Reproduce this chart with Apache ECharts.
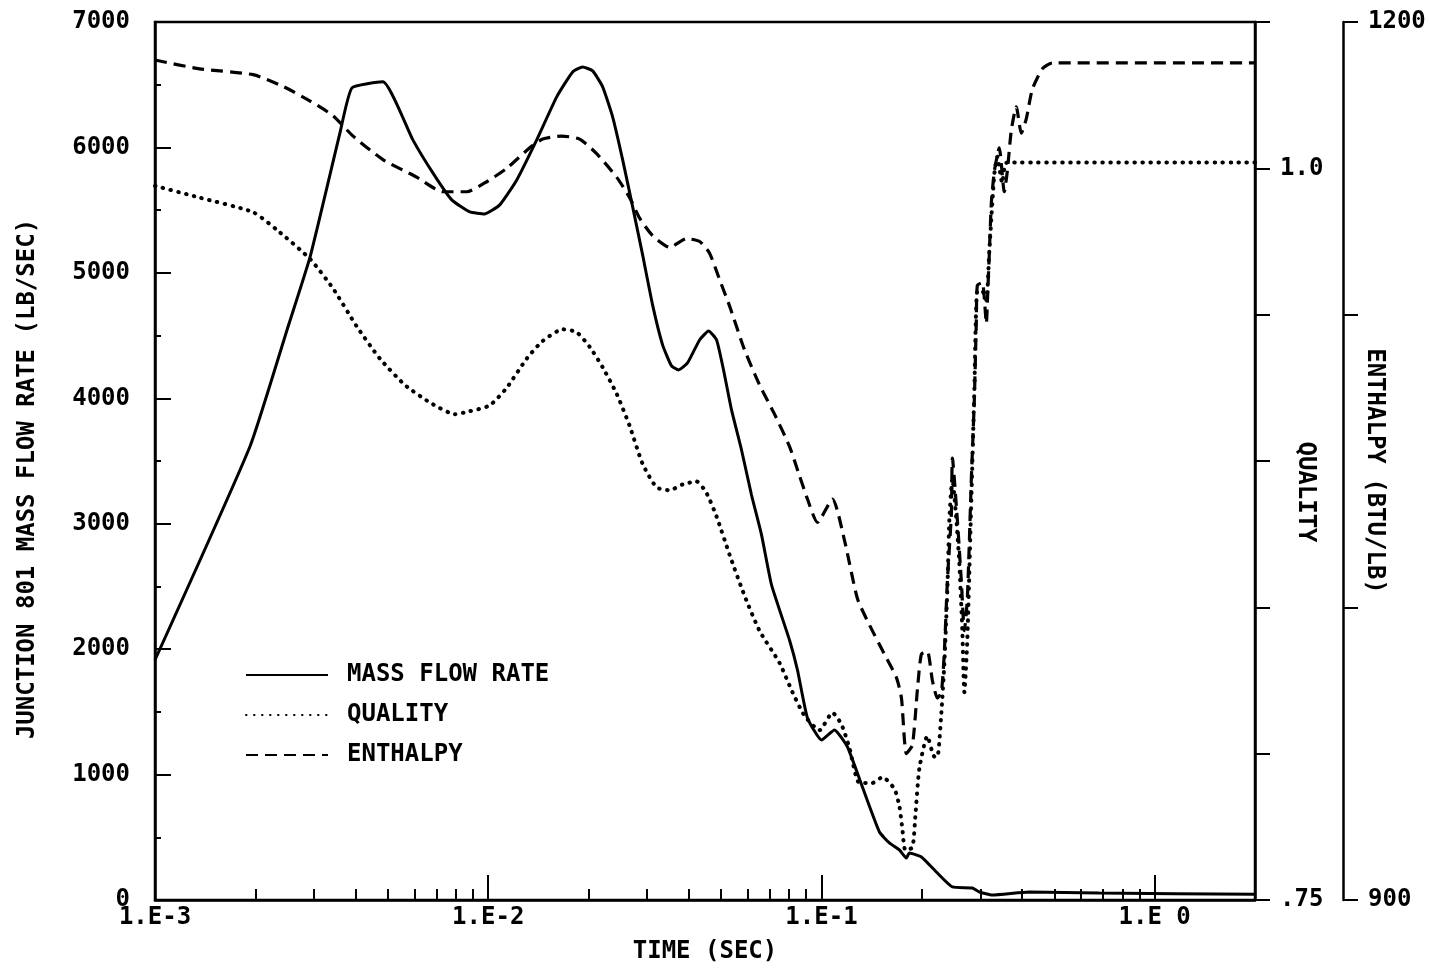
<!DOCTYPE html>
<html>
<head>
<meta charset="utf-8">
<script src="https://cdn.jsdelivr.net/npm/echarts@6/dist/echarts.min.js"></script>
<style>
html,body{margin:0;padding:0;background:#fff;}
#chart{width:1430px;height:972px;}
</style>
</head>
<body>
<div id="chart"></div>
<script>
// ---- data (time in seconds) ----
const massTime = [0.001,0.00193,0.00249,0.00292,0.00359,0.0039,0.00483,0.00594,0.00682,0.00777,0.0088,0.00976,0.01083,0.01218,0.01398,0.01605,0.01792,0.0192,0.02058,0.02205,0.02362,0.02532,0.02713,0.02906,0.03113,0.03336,0.03549,0.03725,0.03964,0.04308,0.04584,0.04845,0.05083,0.05372,0.05756,0.06167,0.06609,0.07082,0.08017,0.08472,0.09078,0.1,0.1094,0.1197,0.1327,0.1493,0.1599,0.1714,0.1798,0.1836,0.1995,0.2212,0.2471,0.2837,0.2978,0.3257,0.4205,0.6817,2.0];
const massFlow = [1914,3620,4545,5127,6116,6475,6523,6060,5797,5582,5486,5470,5542,5741,6060,6403,6602,6642,6610,6483,6244,5901,5526,5143,4745,4426,4258,4226,4282,4465,4537,4465,4226,3907,3588,3229,2911,2512,2073,1834,1451,1276,1356,1220,901,542,455,399,335,375,343,223,104,96,64,40,64,56,45];

const qualTime = [0.001,0.00136,0.00197,0.00232,0.00292,0.00342,0.00403,0.00473,0.00562,0.00668,0.00794,0.0088,0.0101,0.01136,0.01305,0.01457,0.01673,0.01842,0.02016,0.02205,0.02428,0.02657,0.02906,0.03201,0.03501,0.0383,0.04219,0.04521,0.04845,0.05298,0.05876,0.06518,0.07484,0.08185,0.08892,0.09863,0.1079,0.1148,0.1213,0.13,0.1422,0.1524,0.1655,0.1714,0.175,0.1786,0.1875,0.1914,0.1967,0.2079,0.2182,0.2228,0.229,0.2338,0.2387,0.242,0.2471,0.254,0.2593,0.2647,0.2684,0.274,0.2817,0.2876,0.2936,0.304,0.3125,0.319,0.3302,0.3371,0.3488,0.3612,2.0];
const quality = [0.994,0.990,0.985,0.979,0.969,0.959,0.946,0.935,0.926,0.920,0.916,0.917,0.919,0.925,0.935,0.941,0.945,0.944,0.939,0.932,0.923,0.912,0.899,0.891,0.890,0.892,0.893,0.889,0.881,0.868,0.854,0.842,0.831,0.821,0.813,0.808,0.814,0.810,0.802,0.790,0.790,0.792,0.788,0.782,0.774,0.767,0.768,0.779,0.795,0.806,0.799,0.799,0.814,0.831,0.856,0.880,0.894,0.880,0.865,0.842,0.821,0.839,0.887,0.924,0.958,0.958,0.955,0.972,0.998,1.004,0.995,1.002,1.002];

const enthTime = [0.001,0.00136,0.00197,0.00242,0.00292,0.00342,0.00393,0.00483,0.0061,0.0073,0.00862,0.00976,0.01136,0.01332,0.01457,0.01661,0.01881,0.02115,0.02428,0.02657,0.02847,0.03113,0.03501,0.03937,0.04308,0.04616,0.04946,0.05298,0.05876,0.06518,0.0723,0.08017,0.0859,0.09078,0.09727,0.1079,0.1172,0.1282,0.1393,0.1545,0.1679,0.1738,0.1798,0.1875,0.1941,0.1995,0.2079,0.2152,0.2228,0.229,0.2338,0.2387,0.2454,0.2471,0.2557,0.2629,0.2684,0.274,0.2817,0.2876,0.2916,0.2936,0.304,0.3125,0.3146,0.319,0.3234,0.3302,0.3417,0.3537,0.3612,0.3713,0.3843,0.3979,0.4119,0.4293,0.46,0.4928,2.0];
const enthalpy = [1187,1184,1182,1178,1173,1168,1161,1153,1147,1142,1142,1145,1150,1157,1160,1161,1160,1155,1147,1140,1133,1127,1123,1126,1125,1121,1112,1103,1088,1076,1066,1055,1045,1037,1029,1037,1023,1003,994,984,976,969,950,953,972,984,985,975,969,971,985,1009,1032,1051,1030,1009,992,1003,1044,1071,1098,1110,1111,1097,1104,1121,1138,1149,1157,1142,1149,1163,1171,1162,1167,1177,1184,1186,1186];

const minorTimeTicks = [0.002,0.003,0.004,0.005,0.006,0.007,0.008,0.009,0.02,0.03,0.04,0.05,0.06,0.07,0.08,0.09,0.2,0.3,0.4,0.5,0.6,0.7,0.8,0.9];

const seriesNames = ['MASS FLOW RATE','QUALITY','ENTHALPY'];

// ---- chart ----
const FONT = "'DejaVu Sans Mono', 'Liberation Mono', monospace";
const txt = {fontFamily: FONT, fontWeight: 'bold', fontSize: 24, color: '#000'};
const zip = (a, b) => a.map((v, i) => [v, b[i]]);

function timeLabel(v) {
  const e = Math.log10(v);
  const r = Math.round(e);
  if (Math.abs(e - r) > 1e-6) return '';
  return r === 0 ? '1.E 0' : '1.E' + r;
}

const chart = echarts.init(document.getElementById('chart'), null, {renderer: 'canvas'});
chart.setOption({
  animation: false,
  backgroundColor: '#fff',
  grid: {left: 155, top: 22, right: 175, bottom: 72, show: true, borderColor: '#000', borderWidth: 2.5, backgroundColor: 'transparent'},
  legend: {
    data: seriesNames,
    orient: 'vertical',
    left: 240, top: 658,
    itemWidth: 82, itemHeight: 24, itemGap: 16,
    itemStyle: {opacity: 0},
    textStyle: Object.assign({}, txt, {padding: [0, 0, 0, 14]})
  },
  xAxis: [
    {
      type: 'log', logBase: 10, min: 0.001, max: 2,
      name: 'TIME (SEC)', nameLocation: 'middle', nameGap: 40, nameTextStyle: txt, nameMoveOverlap: false,
      axisLine: {show: true, lineStyle: {color: '#000', width: 2.5}},
      axisTick: {show: true, inside: true, length: 25, lineStyle: {color: '#000', width: 2}},
      axisLabel: Object.assign({}, txt, {margin: 6, formatter: timeLabel, showMaxLabel: false}),
      splitLine: {show: false}
    },
    {
      type: 'log', logBase: 10, min: 0.001, max: 2, position: 'bottom',
      axisLine: {show: false},
      axisTick: {show: true, inside: true, length: 11, customValues: minorTimeTicks, lineStyle: {color: '#000', width: 2}},
      axisLabel: {show: false},
      splitLine: {show: false}
    }
  ],
  yAxis: [
    {
      type: 'value', min: 0, max: 7000, interval: 1000, position: 'left',
      name: 'JUNCTION 801 MASS FLOW RATE (LB/SEC)', nameLocation: 'middle', nameGap: 115, nameMoveOverlap: false,
      nameTextStyle: Object.assign({}, txt, {padding: [0, 36, 0, 0]}),
      axisLine: {show: true, lineStyle: {color: '#000', width: 2.5}},
      axisTick: {show: true, inside: true, length: 16, lineStyle: {color: '#000', width: 2}},
      minorTick: {show: true, splitNumber: 2, length: 6, lineStyle: {color: '#000', width: 2}},
      axisLabel: Object.assign({}, txt, {margin: 25, formatter: function (v) { return String(v); }}),
      splitLine: {show: false}
    },
    {
      type: 'value', min: 0.75, max: 1.05, interval: 0.05, position: 'right', offset: 0,
      name: 'QUALITY', nameLocation: 'middle', nameGap: 38, nameRotate: -90, nameMoveOverlap: false,
      nameTextStyle: Object.assign({}, txt, {padding: [0, 0, 0, 62]}),
      axisLine: {show: true, lineStyle: {color: '#000', width: 2.5}},
      axisTick: {show: true, inside: false, length: 15, lineStyle: {color: '#000', width: 2}},
      axisLabel: Object.assign({}, txt, {margin: 25, formatter: function (v) {
        if (Math.abs(v - 0.75) < 1e-6) return '.75';
        if (Math.abs(v - 1.0) < 1e-6) return '1.0';
        return '';
      }}),
      splitLine: {show: false}
    },
    {
      type: 'value', min: 900, max: 1200, interval: 100, position: 'right', offset: 88,
      name: 'ENTHALPY (BTU/LB)', nameLocation: 'middle', nameGap: 19, nameRotate: -90, nameMoveOverlap: false,
      nameTextStyle: Object.assign({}, txt, {padding: [0, 0, 0, 20]}),
      axisLine: {show: true, lineStyle: {color: '#000', width: 2.5}},
      axisTick: {show: true, inside: false, length: 15, lineStyle: {color: '#000', width: 2}},
      axisLabel: Object.assign({}, txt, {margin: 25, formatter: function (v) {
        return (v === 900 || v === 1200) ? String(v) : '';
      }}),
      splitLine: {show: false}
    }
  ],
  series: [
    {
      name: seriesNames[0], type: 'line', xAxisIndex: 0, yAxisIndex: 0,
      data: zip(massTime, massFlow), symbol: 'none', smooth: 0.15,
      lineStyle: {color: '#000', width: 3, type: 'solid'}, itemStyle: {color: '#000'}
    },
    {
      name: seriesNames[1], type: 'line', xAxisIndex: 0, yAxisIndex: 1,
      data: zip(qualTime, quality), symbol: 'none', smooth: 0.2,
      lineStyle: {color: '#000', width: 4, type: [0.5, 7.5], cap: 'round'}, itemStyle: {color: '#000'}
    },
    {
      name: seriesNames[2], type: 'line', xAxisIndex: 0, yAxisIndex: 2,
      data: zip(enthTime, enthalpy), symbol: 'none', smooth: 0.2,
      lineStyle: {color: '#000', width: 3.2, type: [12, 7]}, itemStyle: {color: '#000'}
    }
  ]
});
</script>
</body>
</html>
